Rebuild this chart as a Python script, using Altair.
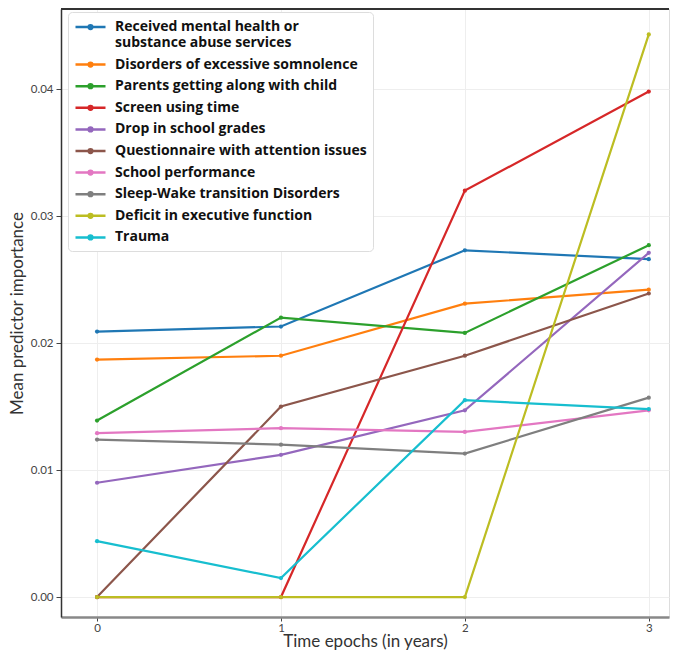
import altair as alt
import pandas as pd

epochs = [0, 1, 2, 3]
series_names = [
    "Received mental health or substance abuse services",
    "Disorders of excessive somnolence",
    "Parents getting along with child",
    "Screen using time",
    "Drop in school grades",
    "Questionnaire with attention issues",
    "School performance",
    "Sleep-Wake transition Disorders",
    "Deficit in executive function",
    "Trauma",
]
values_mental_health = [0.0209, 0.0213, 0.0273, 0.0266]
values_somnolence = [0.0187, 0.0190, 0.0231, 0.0242]
values_parents = [0.0139, 0.0220, 0.0208, 0.0277]
values_screen = [0.0, 0.0, 0.0320, 0.0398]
values_grades = [0.0090, 0.0112, 0.0147, 0.0271]
values_attention = [0.0, 0.0150, 0.0190, 0.0239]
values_school_perf = [0.0129, 0.0133, 0.0130, 0.0147]
values_sleep_wake = [0.0124, 0.0120, 0.0113, 0.0157]
values_exec = [0.0, 0.0, 0.0, 0.0443]
values_trauma = [0.0044, 0.0015, 0.0155, 0.0148]

all_values = [values_mental_health, values_somnolence, values_parents, values_screen,
              values_grades, values_attention, values_school_perf, values_sleep_wake,
              values_exec, values_trauma]
colors = ["#1f77b4", "#ff7f0e", "#2ca02c", "#d62728", "#9467bd",
          "#8c564b", "#e377c2", "#7f7f7f", "#bcbd22", "#17becf"]

rows = []
for name, vals in zip(series_names, all_values):
    for e, v in zip(epochs, vals):
        rows.append({"epoch": e, "value": v, "series": name})
df = pd.DataFrame(rows)

W, H = 608, 608
FONT = "Lato"
LFONT = "Open Sans"

xs = alt.X("epoch:Q", scale=alt.Scale(domain=[-0.196, 3.11], nice=False, zero=False),
           axis=alt.Axis(values=epochs, format="d", title="Time epochs (in years)",
                         titleFont=FONT, titleFontSize=17, titleFontWeight="normal",
                         titleColor="#333", titlePadding=0,
                         labelFont=FONT, labelFontSize=11.5, labelColor="#444", labelPadding=1,
                         domainColor="#888", domainWidth=2.5, tickColor="#444", tickSize=4,
                         gridColor="#eeeeee"))
ys = alt.Y("value:Q", scale=alt.Scale(domain=[-0.00157, 0.0463], nice=False, zero=False),
           axis=alt.Axis(values=[0, 0.01, 0.02, 0.03, 0.04], format=".2f",
                         title="Mean predictor importance",
                         titleFont=FONT, titleFontSize=17, titleFontWeight="normal",
                         titleColor="#333", titlePadding=4,
                         labelFont=FONT, labelFontSize=11.5, labelColor="#444", labelPadding=3,
                         domainColor="#333", domainWidth=1.5, tickColor="#444", tickSize=5,
                         gridColor="#eeeeee"))

label_expr = ("datum.label == 'Received mental health or substance abuse services' ? "
              "['Received mental health or', 'substance abuse services'] : datum.label")

color = alt.Color("series:N", scale=alt.Scale(domain=series_names, range=colors),
                  legend=alt.Legend(title=None, orient="none", legendX=7, legendY=3,
                                    labelExpr=label_expr, labelLimit=400,
                                    symbolType="M-1,0L3,0M0.75,0a0.25,0.25 0 1,0 0.5,0a0.25,0.25 0 1,0 -0.5,0",
                                    symbolSize=225, symbolStrokeWidth=2.5,
                                    labelFontSize=14, labelFontWeight="bold",
                                    labelFont=LFONT, labelColor="#111",
                                    rowPadding=5.6, labelOffset=23,
                                    fillColor="white", strokeColor="#ddd",
                                    cornerRadius=4, padding=6))

lines = alt.Chart(df).mark_line(strokeWidth=2.2, point=alt.OverlayMarkDef(size=18, filled=True)).encode(
    x=xs, y=ys, color=color, order="epoch:Q"
)

top_border = alt.Chart(df).mark_rule(color="#333", strokeWidth=1.5).encode(
    x=alt.value(0), x2=alt.value(W), y=alt.value(0)
)

chart = alt.layer(lines, top_border).properties(width=W, height=H).configure_view(
    stroke=None
).configure(padding=0)

chart.save("out.html", embed_options={"renderer": "svg", "actions": False})
